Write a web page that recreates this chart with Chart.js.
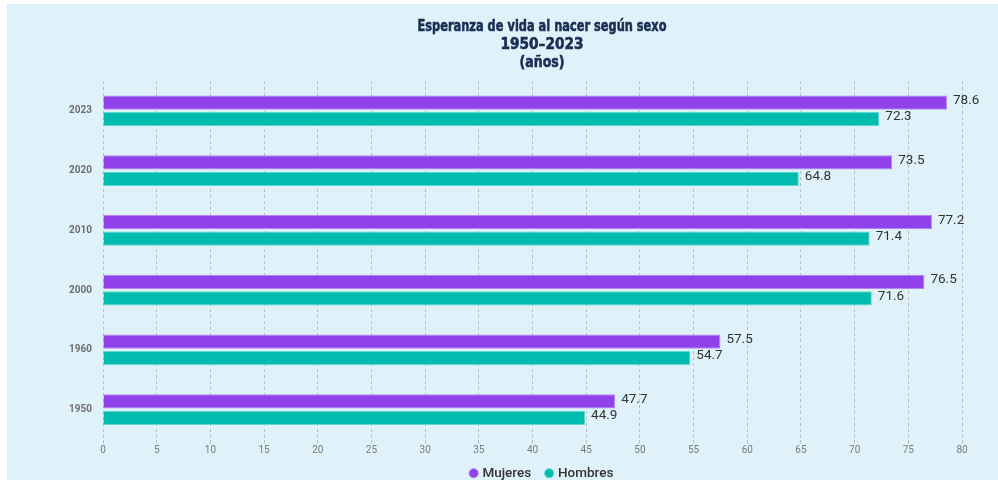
<!DOCTYPE html>
<html>
<head>
<meta charset="utf-8">
<script src="https://cdn.jsdelivr.net/npm/chart.js@4.4.0/dist/chart.umd.min.js"></script>
<style>
  html, body { margin: 0; padding: 0; background: #ffffff; }
  #panel { position: absolute; left: 7px; top: 4px; width: 991px; height: 476px; background: #dff2f9; overflow: hidden; }
</style>
</head>
<body>
<div id="panel"><canvas id="lifeChart" width="991" height="476"></canvas></div>
<script>
// datos
const years = ['2023', '2020', '2010', '2000', '1960', '1950'];
const mujeres = [78.6, 73.5, 77.2, 76.5, 57.5, 47.7];
const hombres = [72.3, 64.8, 71.4, 71.6, 54.7, 44.9];
const titleLines = ['Esperanza de vida al nacer según sexo', '1950–2023', '(años)'];

// título en fuente estrecha y gruesa (se comprime horizontalmente)
const titleWidths = [249, 83, 45];
const narrowTitle = {
    id: 'narrowTitle',
    afterDraw(chart) {
        const ctx = chart.ctx;
        ctx.font = 'bold 15px "DejaVu Sans", sans-serif';
        ctx.fillStyle = '#1b2f55';
        ctx.strokeStyle = '#1b2f55';
        ctx.lineWidth = 0.6;
        ctx.textAlign = 'center';
        ctx.textBaseline = 'middle';
        titleLines.forEach((t, i) => {
            ctx.save();
            const sx = titleWidths[i] / ctx.measureText(t).width;
            ctx.translate(535, 23 + i * 18);
            ctx.scale(sx, 1);
            ctx.fillText(t, 0, 0);
            ctx.strokeText(t, 0, 0);
            ctx.restore();
        });
    }
};

// mover la leyenda para centrarla como en el original
const legendShift = {
    id: 'legendShift',
    afterLayout(chart) {
        const lg = chart.legend;
        lg.left += 58; lg.right += 58;
        lg.top -= 7; lg.bottom -= 7;
    }
};

// etiquetas de valor a la derecha de cada barra
const valueLabels = {
    id: 'valueLabels',
    afterDatasetsDraw(chart) {
        const ctx = chart.ctx;
        ctx.save();
        ctx.font = '13.5px Roboto, "Liberation Sans", sans-serif';
        ctx.fillStyle = '#333333';
        ctx.textAlign = 'left';
        ctx.textBaseline = 'middle';
        chart.data.datasets.forEach((ds, i) => {
            chart.getDatasetMeta(i).data.forEach((bar, j) => {
                ctx.fillText(ds.data[j].toFixed(1), bar.x + 6, bar.y - 2);
            });
        });
        ctx.restore();
    }
};

const ctx = document.getElementById('lifeChart').getContext('2d');
new Chart(ctx, {
    type: 'bar',
    data: {
        labels: years,
        datasets: [{
            label: 'Mujeres',
            data: mujeres,
            backgroundColor: '#9041ea',
            borderColor: '#b583f2',
            borderWidth: 1,
            categoryPercentage: 0.55,
            barPercentage: 0.87
        }, {
            label: 'Hombres',
            data: hombres,
            backgroundColor: '#00bcae',
            borderColor: '#5fd9cf',
            borderWidth: 1,
            categoryPercentage: 0.55,
            barPercentage: 0.87
        }]
    },
    options: {
        indexAxis: 'y',
        responsive: false,
        animation: false,
        layout: { padding: { left: 0, right: 36, top: 77, bottom: -17 } },
        plugins: {
            title: { display: false },
            legend: {
                position: 'bottom',
                labels: {
                    usePointStyle: true,
                    pointStyle: 'circle',
                    boxWidth: 4,
                    boxHeight: 6.5,
                    padding: 16,
                    color: '#333333',
                    font: { family: 'Roboto, "Liberation Sans", sans-serif', size: 13.5, weight: '500' }
                }
            },
            tooltip: { enabled: false }
        },
        scales: {
            x: {
                min: 0,
                max: 80,
                ticks: {
                    stepSize: 5,
                    color: '#7a7a7a',
                    padding: 1,
                    font: { family: 'Roboto, "Liberation Sans", sans-serif', size: 10 }
                },
                grid: {
                    color: '#b3bfc5',
                    tickLength: 4
                },
                border: { display: false, dash: [3, 3] }
            },
            y: {
                afterFit(scale) { scale.width = 96; },
                ticks: {
                    color: '#6f6f6f',
                    padding: 3,
                    font: { family: 'Roboto, "Liberation Sans", sans-serif', size: 10, weight: 'bold' }
                },
                grid: { display: false },
                border: { display: false }
            }
        }
    },
    plugins: [narrowTitle, legendShift, valueLabels]
});
</script>
</body>
</html>
